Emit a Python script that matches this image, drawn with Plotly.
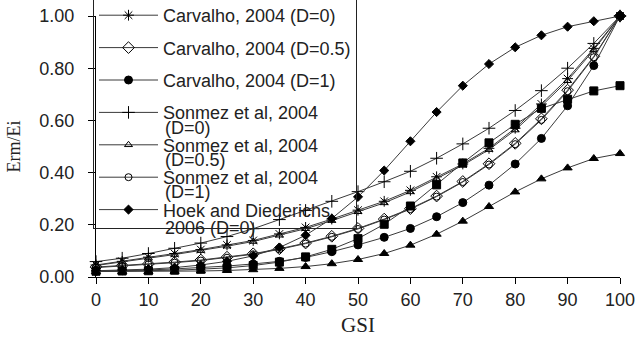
import plotly.graph_objects as go

gsi = [0, 5, 10, 15, 20, 25, 30, 35, 40, 45, 50, 55, 60, 65, 70, 75, 80, 85, 90, 95, 100]

carvalho_d0 = [0.046, 0.060, 0.076, 0.090, 0.105, 0.123, 0.140, 0.165, 0.190, 0.222, 0.256,
               0.290, 0.332, 0.384, 0.433, 0.493, 0.570, 0.663, 0.760, 0.876, 1.000]
carvalho_d05 = [0.038, 0.044, 0.050, 0.057, 0.065, 0.076, 0.089, 0.108, 0.130, 0.156, 0.186,
                0.222, 0.262, 0.310, 0.366, 0.434, 0.512, 0.606, 0.716, 0.845, 1.000]
carvalho_d1 = [0.022, 0.024, 0.027, 0.031, 0.036, 0.042, 0.050, 0.060, 0.075, 0.097, 0.123,
               0.152, 0.186, 0.231, 0.285, 0.352, 0.433, 0.531, 0.656, 0.810, 1.000]
sonmez_d0 = [0.059, 0.072, 0.090, 0.110, 0.130, 0.155, 0.185, 0.220, 0.255, 0.290, 0.327,
             0.365, 0.405, 0.455, 0.510, 0.570, 0.638, 0.714, 0.800, 0.895, 1.000]
sonmez_d05 = [0.044, 0.057, 0.072, 0.086, 0.101, 0.118, 0.136, 0.160, 0.185, 0.216, 0.250,
              0.284, 0.326, 0.377, 0.428, 0.488, 0.563, 0.655, 0.752, 0.870, 1.000]
sonmez_d1 = [0.036, 0.042, 0.048, 0.055, 0.063, 0.074, 0.087, 0.106, 0.128, 0.154, 0.184,
             0.220, 0.260, 0.308, 0.364, 0.431, 0.509, 0.602, 0.712, 0.842, 1.000]
hoek_d0 = [0.024, 0.027, 0.030, 0.036, 0.046, 0.060, 0.081, 0.113, 0.160, 0.224, 0.307,
           0.408, 0.520, 0.632, 0.733, 0.816, 0.880, 0.926, 0.959, 0.980, 1.000]
hoek_d05 = [0.022, 0.023, 0.024, 0.026, 0.030, 0.035, 0.044, 0.057, 0.077, 0.106, 0.147,
            0.202, 0.272, 0.353, 0.437, 0.514, 0.585, 0.646, 0.681, 0.713, 0.733]
hoek_d1 = [0.021, 0.021, 0.021, 0.022, 0.023, 0.025, 0.028, 0.033, 0.040, 0.051, 0.067,
           0.090, 0.122, 0.164, 0.214, 0.270, 0.326, 0.376, 0.418, 0.454, 0.473]

series = [
    ("Carvalho, 2004 (D=0)", carvalho_d0, "asterisk-open", 9, True),
    ("Carvalho, 2004 (D=0.5)", carvalho_d05, "diamond-open", 9, True),
    ("Carvalho, 2004 (D=1)", carvalho_d1, "circle", 8, True),
    ("Sonmez et al, 2004", sonmez_d0, "cross-thin-open", 9, True),
    ("Sonmez et al, 2004", sonmez_d05, "triangle-up-open", 7, True),
    ("Sonmez et al, 2004", sonmez_d1, "circle-open", 7, True),
    ("Hoek and Diederichs", hoek_d0, "diamond", 7, True),
    ("Hoek and Diederichs 2006 (D=0.5)", hoek_d05, "square", 8, False),
    ("Hoek and Diederichs 2006 (D=1)", hoek_d1, "triangle-up", 8, False),
]

# second lines of the wrapped legend labels
sub_labels = ["(D=0)", "(D=0.5)", "(D=1)", "2006 (D=0)"]
sub_y = [128, 160, 192, 228]

sans = "Liberation Sans, Arial, sans-serif"
serif = "Liberation Serif, Times New Roman, serif"

fig = go.Figure()
for i, (name, vals, sym, size, show) in enumerate(series):
    fig.add_trace(go.Scatter(
        x=gsi, y=vals, name=name, mode="lines+markers",
        legendgroup="g%d" % i, showlegend=show,
        line=dict(color="#3a3a3a", width=1),
        marker=dict(symbol=sym, size=size, color="black",
                    line=dict(color="black", width=1)),
        cliponaxis=False,
    ))

annotations = []
for lab, yp in zip(sub_labels, sub_y):
    annotations.append(dict(
        text=lab, xref="paper", yref="paper",
        x=(163 - 96) / 524, y=(277 - yp) / 261,
        xanchor="left", yanchor="middle", showarrow=False,
        font=dict(family=sans, size=18, color="#222"),
    ))

fig.update_layout(
    width=637, height=341,
    margin=dict(l=96, r=17, t=16, b=64, autoexpand=False),
    paper_bgcolor="white", plot_bgcolor="white",
    showlegend=True,
    legend=dict(
        x=(93 - 96) / 524, y=(277 + 4) / 261, xanchor="left", yanchor="top",
        bgcolor="rgba(0,0,0,0)", bordercolor="#222", borderwidth=1,
        font=dict(family=sans, size=18, color="#222"),
        itemwidth=59, tracegroupgap=6, valign="top",
        traceorder="grouped", maxheight=1.0,
    ),
    annotations=annotations,
    xaxis=dict(
        range=[0, 100], tickvals=list(range(0, 101, 10)),
        showline=True, linecolor="black", linewidth=1,
        ticks="outside", ticklen=6, tickcolor="black",
        showgrid=False, zeroline=False,
        tickfont=dict(family=sans, size=18, color="#222"),
        title=dict(text="GSI", font=dict(family=serif, size=21, color="#222"), standoff=8),
    ),
    yaxis=dict(
        range=[0, 1], tickvals=[0, 0.2, 0.4, 0.6, 0.8, 1.0], tickformat=".2f",
        showline=True, linecolor="black", linewidth=1,
        ticks="outside", ticklen=7, tickcolor="black",
        showgrid=False, zeroline=False, ticklabelstandoff=10,
        tickfont=dict(family=sans, size=18, color="#222"),
        title=dict(text="Erm/Ei", font=dict(family=serif, size=18, color="#222"), standoff=14),
    ),
)

fig.write_html("out.html")
